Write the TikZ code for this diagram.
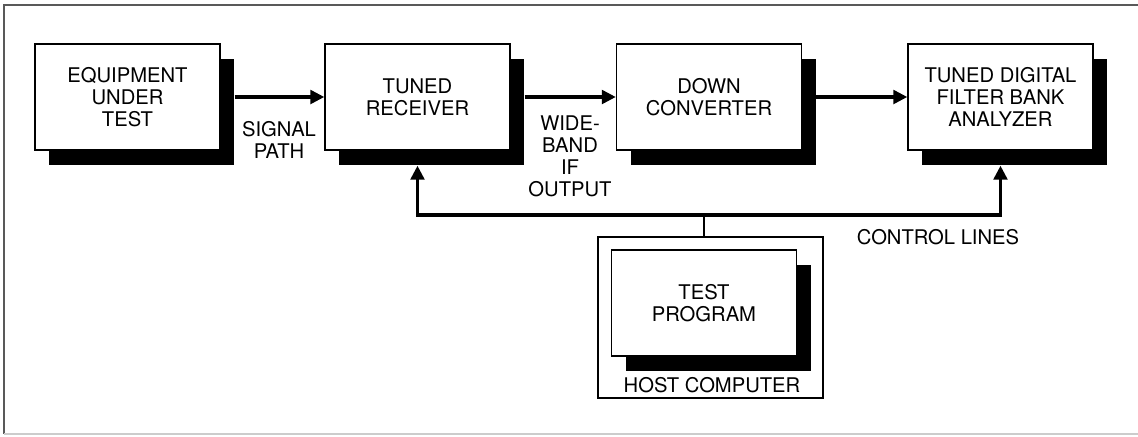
\documentclass[tikz,border=0pt]{standalone}
\usepackage{fontspec}
\setmainfont{TeX Gyre Heros}
\usetikzlibrary{arrows.meta,shadows}
\newcommand\blkfont{\fontsize{11.5}{12.5}\selectfont}
\def\sx{2.8mm}
\def\sy{3mm}

\begin{document}
\begin{tikzpicture}[x=.2mm,y=-.2mm,
  blk/.style={draw,line width=.7pt,fill=white,minimum width=37mm,
    minimum height=21.2mm,align=center,font=\blkfont,
    drop shadow={shadow xshift=\sx,shadow yshift=-\sy,fill=black,opacity=1}},
  sig/.style={line width=2pt,-{Triangle[length=2.8mm,width=2.7mm]}},
  lbl/.style={align=center,font=\blkfont}]
  \useasboundingbox (0,0) rectangle (1138,436);
  % frame
  \draw[black!65,line width=.6pt] (1138,5) -- (4,5) -- (4,434);
  \draw[black!20,line width=.6pt] (4,434) -- (1138,434);

  % signal chain
  \node[blk] (eut) at (127.5,97) {EQUIPMENT\\UNDER\\TEST};
  \node[blk] (rx)  at (417.5,97) {TUNED\\RECEIVER};
  \node[blk] (dc)  at (709,97)   {DOWN\\CONVERTER};
  \node[blk] (fb)  at (1000.5,97) {TUNED DIGITAL\\FILTER BANK\\ANALYZER};

  \draw[sig] ([xshift=\sx]eut.east) -- (rx.west);
  \draw[sig] ([xshift=\sx]rx.east) -- (dc.west);
  \draw[sig] ([xshift=\sx]dc.east) -- (fb.west);

  \node[lbl] (sp) at (279,140) {SIGNAL\\PATH};
  \node[lbl] (wb) at (570,156) {WIDE-\\BAND\\IF\\OUTPUT};

  % host computer
  \node[draw,line width=.9pt,minimum width=45mm,minimum height=32.2mm]
    (host) at (710.5,317.5) {};
  \node[blk] (prog) at (704,303) {TEST\\PROGRAM};
  \node[lbl] (hostlbl) at (712,385) {HOST COMPUTER};

  % control lines
  \draw[line width=1.4pt] (prog.north |- host.north) -- (704,215) coordinate (j);
  \draw[sig] (j) -| ([yshift=-\sy]rx.south);
  \draw[sig] (j) -| ([yshift=-\sy]fb.south);
  \node[lbl] (cl) at (938,237) {CONTROL LINES};
\end{tikzpicture}
\end{document}
